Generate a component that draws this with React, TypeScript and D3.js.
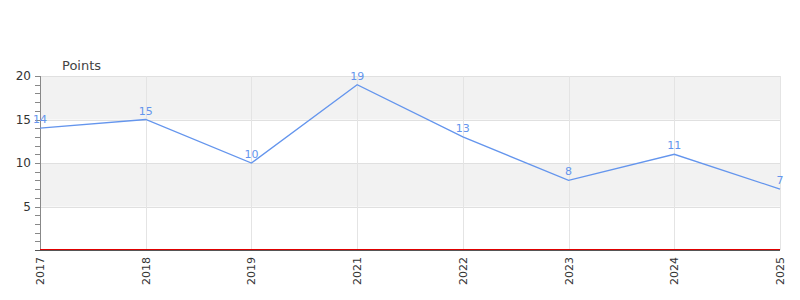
import React from "react";
import * as d3 from "d3";

const categories = ["2017", "2018", "2019", "2021", "2022", "2023", "2024", "2025"];
const values = [14, 15, 10, 19, 13, 8, 11, 7];
const yTicks = [5, 10, 15, 20];
const yTitle = "Points";

export default function App() {
  const W = 800, H = 300;
  const left = 40, right = 780, top = 76, bottom = 250;
  const x = d3.scalePoint<string>().domain(categories).range([left, right]);
  const y = d3.scaleLinear().domain([0, 20]).range([bottom, top]);
  const minor = d3.range(0, 21, 1);
  const bands = [[15, 20], [5, 10]];
  const line = d3.line<number>().x((_, i) => x(categories[i])!).y((d) => y(d));
  const font = "'DejaVu Sans', sans-serif";
  return (
    <svg width={W} height={H} style={{ position: "absolute", left: 0, top: 0 }} fontFamily={font}>
      {bands.map(([a, b], i) => (
        <rect key={i} x={left} y={y(b)} width={right - left} height={y(a) - y(b)} fill="#f2f2f2" />
      ))}
      {yTicks.map((t) => (
        <line key={t} x1={left} x2={right} y1={Math.round(y(t)) + 0.5} y2={Math.round(y(t)) + 0.5} stroke="#e0e0e0" />
      ))}
      {categories.map((c) => (
        <line key={c} x1={Math.round(x(c)!) + 0.5} x2={Math.round(x(c)!) + 0.5} y1={top} y2={bottom} stroke="#e4e4e4" />
      ))}
      {minor.map((t) => (
        <line key={t} x1={35} x2={left} y1={Math.round(y(t)) + 0.5} y2={Math.round(y(t)) + 0.5} stroke="#888" />
      ))}
      <line x1={left + 0.5} x2={left + 0.5} y1={top} y2={bottom + 1} stroke="#888" />
      {yTicks.map((t) => (
        <text key={t} x={31} y={y(t)} dy="0.35em" textAnchor="end" fontSize={12} fill="#333">{t}</text>
      ))}
      <text x={62} y={70} fontSize={13} fill="#444">{yTitle}</text>
      <line x1={35} x2={right} y1={250.5} y2={250.5} stroke="#555" />
      <line x1={left} x2={right} y1={249.5} y2={249.5} stroke="#e00000" />
      <path d={line(values) ?? ""} fill="none" stroke="#6495ed" strokeWidth={1.3} />
      {values.map((v, i) => (
        <text key={i} x={x(categories[i])} y={y(v) - 5} textAnchor="middle" fontSize={11} fill="#6495ed">{v}</text>
      ))}
      {categories.map((c) => (
        <text key={c} transform={`translate(${x(c)! + 4},257) rotate(-90)`} textAnchor="end" fontSize={11} fill="#333">{c}</text>
      ))}
    </svg>
  );
}
